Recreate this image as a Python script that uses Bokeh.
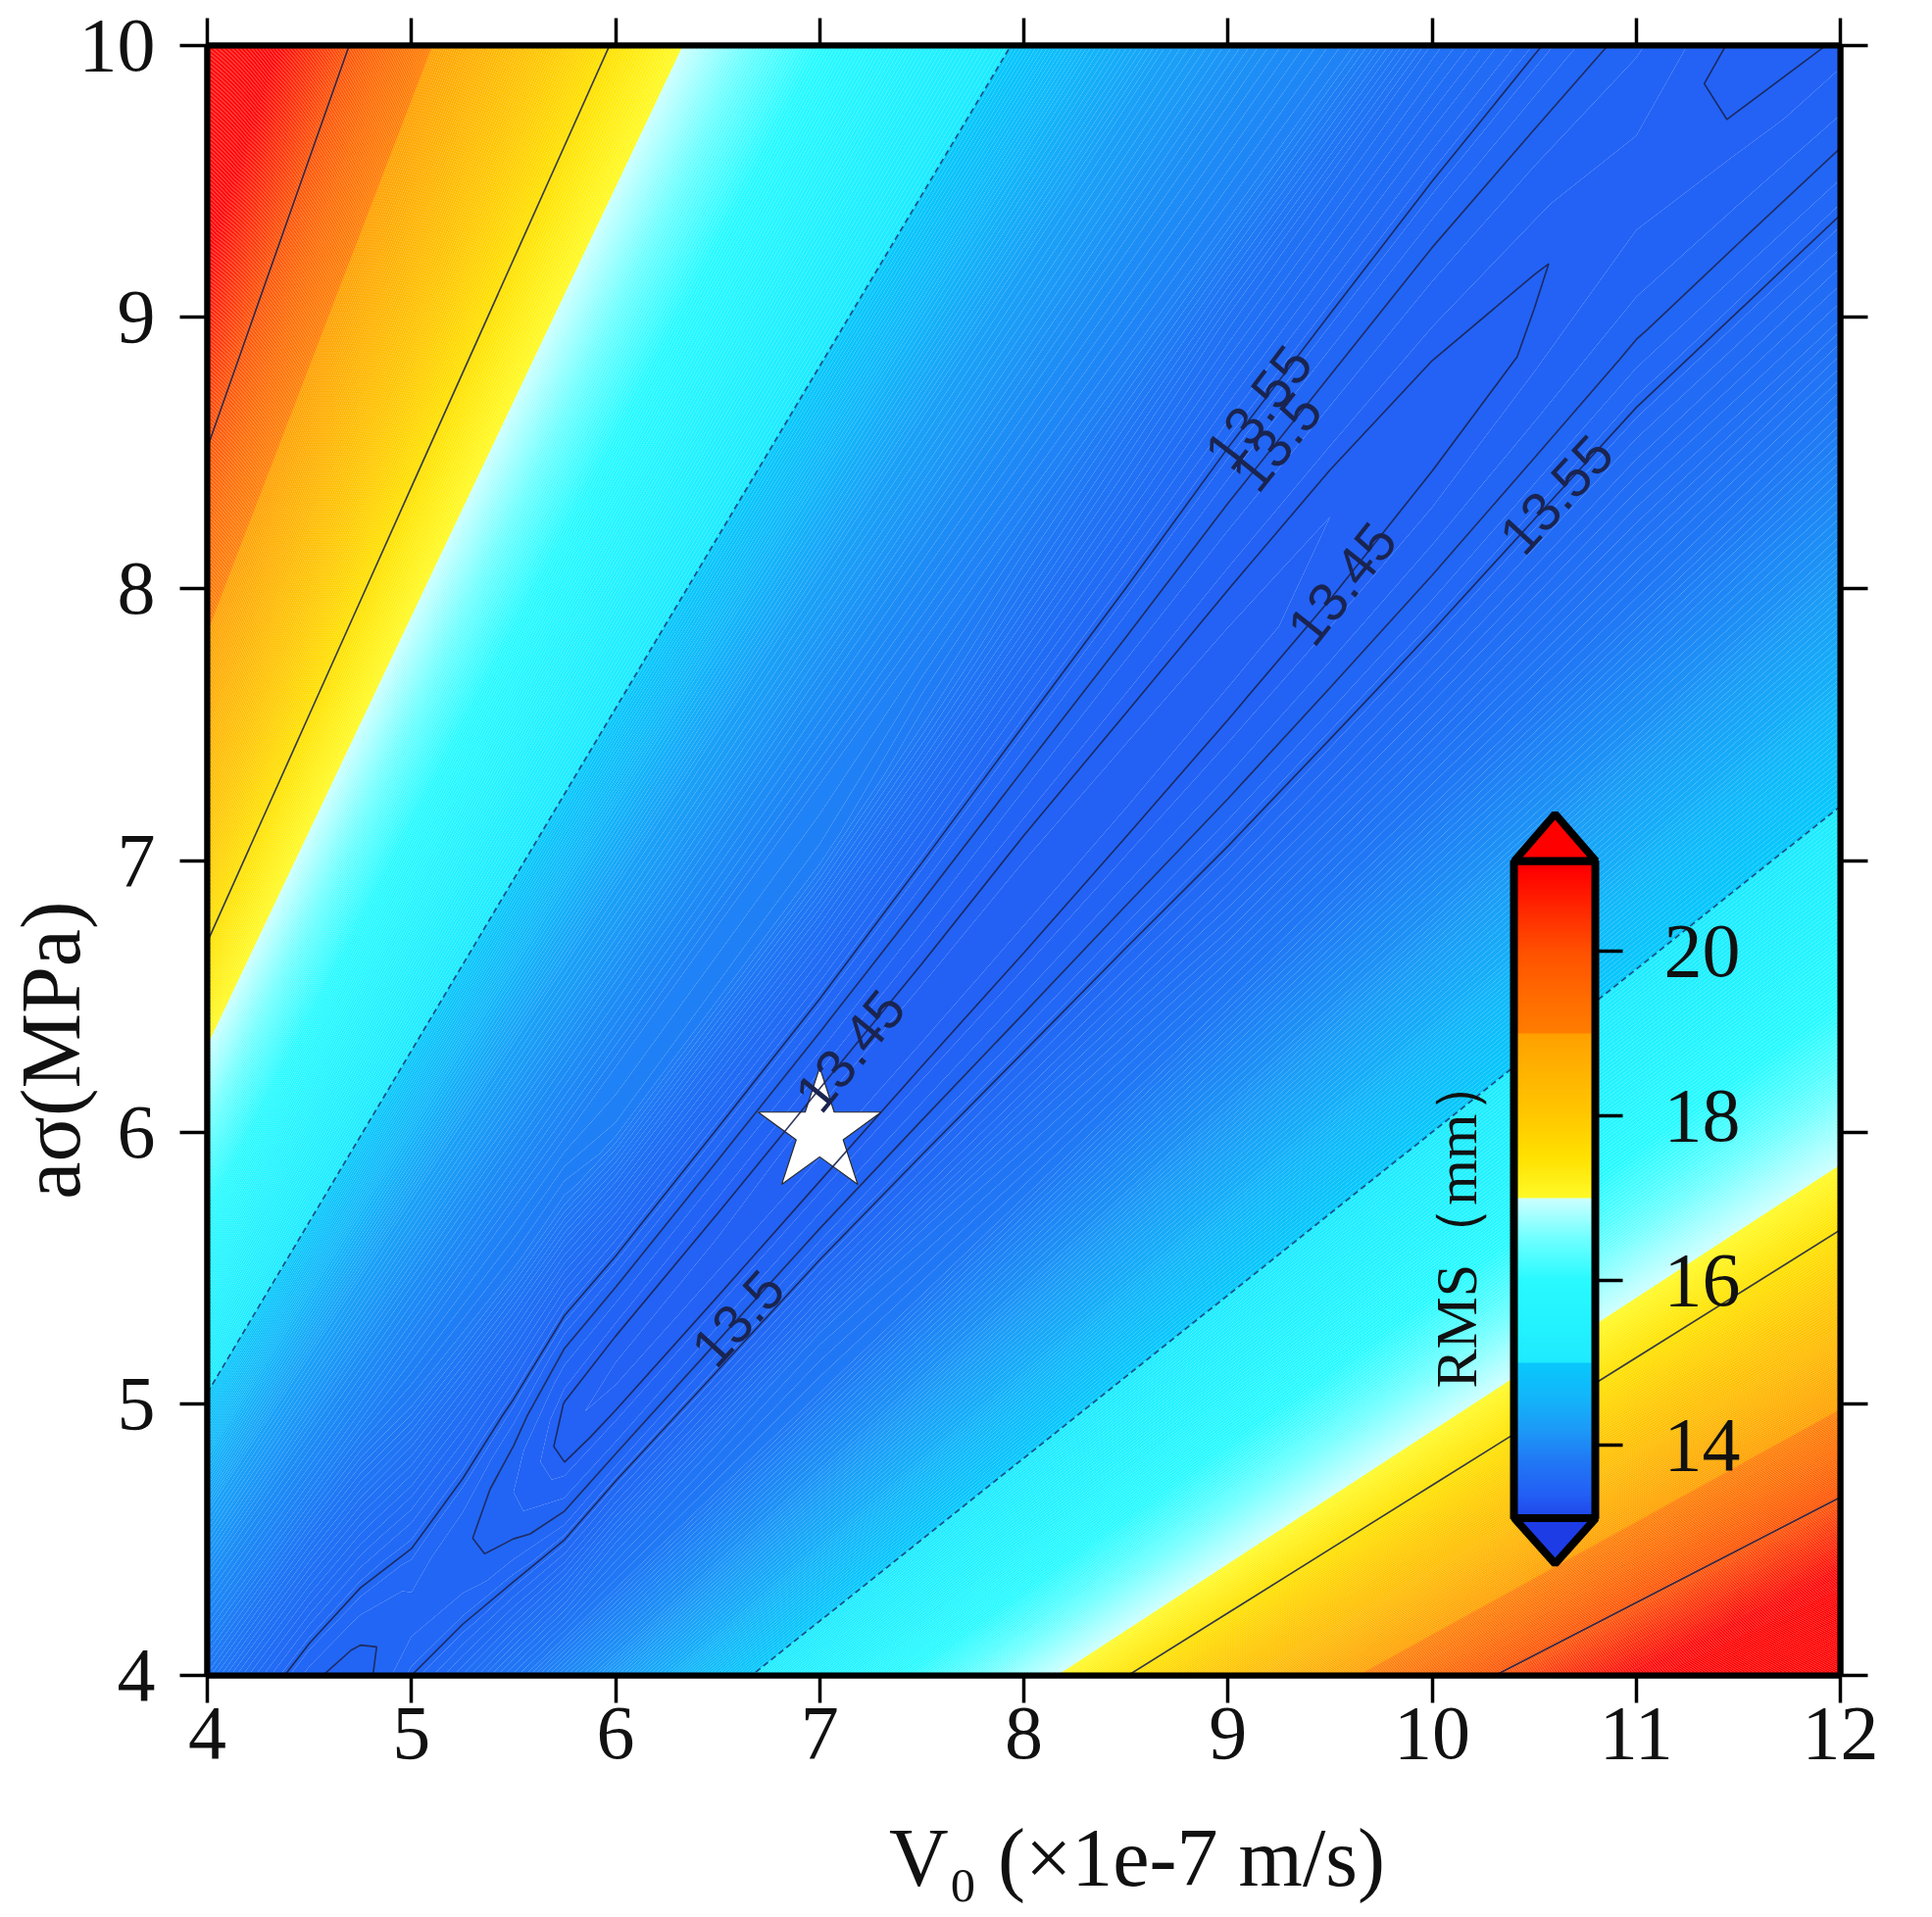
import math
import numpy as np
from bokeh.plotting import figure
from bokeh.plotting.contour import contour_data
from bokeh.models import (ColorBar, LinearColorMapper, FixedTicker, LinearAxis,
                          Label, PolyAnnotation, ColumnDataSource)
from bokeh.core.properties import value, field
from bokeh.embed import file_html
from bokeh.resources import INLINE

# ---------------- data ----------------
# RMS (mm) sampled along rays of constant a-sigma / V0 ratio (rows)
# at a set of V0 positions (columns).
v0_cols = [4.0, 4.5, 4.75, 5.0, 5.25, 5.5, 5.75, 6.0, 6.5, 7.0, 7.5, 8.0, 8.5, 9.0, 9.5, 10.0, 10.5, 11.0, 11.5, 12.0]

# far from the valley the RMS only depends on the ratio
ratio_low = [0.33, 0.36, 0.388, 0.415, 0.44, 0.47, 0.49, 0.52, 0.56, 0.60, 0.64, 0.68, 0.72]
rms_low = [22.3, 21.2, 20.0, 19.0, 18.25, 17.5, 17.0, 16.35, 15.63, 15.0, 14.49, 14.1, 13.82]

ratio_high = [1.04, 1.09, 1.15, 1.20, 1.26, 1.33, 1.40, 1.49, 1.58, 1.675, 1.78, 1.87, 1.96, 2.13, 2.30, 2.52]
rms_high = [13.92, 14.07, 14.30, 14.58, 15.0, 15.41, 15.84, 16.41, 17.0, 17.5, 18.08, 18.55, 19.0, 20.0, 21.0, 22.2]

# the valley of minimum misfit
ratio_valley = [0.75, 0.77, 0.79, 0.81, 0.83, 0.85, 0.87, 0.89, 0.91, 0.93, 0.95, 0.97, 1.00]
rms_valley = [
    [13.618, 13.614, 13.629, 13.672, 13.683, 13.688, 13.681, 13.713, 13.731, 13.749, 13.730, 13.710, 13.693, 13.675, 13.673, 13.672, 13.675, 13.677, 13.666, 13.657],
    [13.566, 13.560, 13.574, 13.610, 13.614, 13.609, 13.592, 13.611, 13.623, 13.636, 13.625, 13.613, 13.604, 13.593, 13.593, 13.594, 13.598, 13.602, 13.592, 13.583],
    [13.528, 13.521, 13.534, 13.565, 13.563, 13.550, 13.525, 13.534, 13.542, 13.550, 13.545, 13.539, 13.535, 13.530, 13.531, 13.533, 13.539, 13.544, 13.534, 13.525],
    [13.503, 13.495, 13.508, 13.535, 13.529, 13.510, 13.479, 13.480, 13.485, 13.489, 13.488, 13.486, 13.485, 13.484, 13.486, 13.489, 13.495, 13.501, 13.492, 13.483],
    [13.491, 13.482, 13.494, 13.519, 13.510, 13.487, 13.451, 13.449, 13.450, 13.451, 13.452, 13.452, 13.453, 13.454, 13.456, 13.460, 13.466, 13.473, 13.464, 13.455],
    [13.491, 13.481, 13.493, 13.515, 13.505, 13.480, 13.442, 13.437, 13.436, 13.435, 13.435, 13.436, 13.437, 13.439, 13.441, 13.445, 13.451, 13.458, 13.449, 13.440],
    [13.502, 13.491, 13.502, 13.524, 13.514, 13.488, 13.449, 13.444, 13.442, 13.439, 13.438, 13.436, 13.437, 13.438, 13.440, 13.443, 13.449, 13.456, 13.447, 13.438],
    [13.523, 13.511, 13.521, 13.545, 13.534, 13.510, 13.472, 13.469, 13.465, 13.461, 13.457, 13.453, 13.452, 13.451, 13.451, 13.453, 13.459, 13.465, 13.456, 13.447],
    [13.554, 13.540, 13.550, 13.575, 13.567, 13.545, 13.509, 13.511, 13.506, 13.501, 13.492, 13.484, 13.479, 13.475, 13.475, 13.475, 13.480, 13.485, 13.476, 13.467],
    [13.594, 13.579, 13.588, 13.616, 13.610, 13.592, 13.560, 13.567, 13.563, 13.558, 13.543, 13.529, 13.520, 13.511, 13.509, 13.507, 13.511, 13.515, 13.506, 13.497],
    [13.641, 13.626, 13.635, 13.666, 13.663, 13.651, 13.624, 13.639, 13.634, 13.629, 13.607, 13.586, 13.572, 13.558, 13.553, 13.550, 13.552, 13.555, 13.545, 13.536],
    [13.697, 13.680, 13.689, 13.724, 13.726, 13.720, 13.699, 13.723, 13.719, 13.715, 13.685, 13.656, 13.635, 13.615, 13.608, 13.602, 13.603, 13.604, 13.593, 13.584],
    [13.794, 13.776, 13.784, 13.827, 13.836, 13.842, 13.833, 13.873, 13.871, 13.869, 13.824, 13.781, 13.748, 13.717, 13.706, 13.696, 13.694, 13.692, 13.681, 13.672],
]

best_v0 = [7.0]
best_asigma = [6.0]

x_ticks = [4, 5, 6, 7, 8, 9, 10, 11, 12]
y_ticks = [4, 5, 6, 7, 8, 9, 10]
cbar_ticks = [14, 16, 18, 20]
line_levels = [13.45, 13.5, 13.55, 17.5, 20.0]
dash_levels = [15.0]
# (level, V0 where the label sits, branch)
label_specs = [(13.55, 9.15, "upper"), (13.5, 9.24, "upper"), (13.45, 9.56, "lower"),
               (13.55, 10.61, "lower"), (13.45, 7.15, "upper"), (13.5, 6.6, "lower")]
label_texts = ["13.55", "13.5", "13.45", "13.55", "13.45", "13.5"]

# ---------------- colour scale (style) ----------------
STOPS = [
    (13.0, (30, 60, 230)), (13.4, (35, 95, 245)), (13.8, (32, 120, 245)),
    (14.2, (28, 155, 247)), (14.6, (18, 183, 250)), (15.0, (8, 200, 252)),
    (15.0, (30, 235, 255)), (16.0, (40, 250, 255)), (16.5, (110, 255, 255)), (17.0, (205, 255, 255)),
    (17.0, (255, 250, 40)), (17.5, (255, 225, 0)), (18.0, (255, 200, 0)), (18.5, (255, 180, 0)), (19.0, (255, 160, 0)),
    (19.0, (255, 125, 0)), (19.5, (255, 105, 0)), (20.0, (255, 80, 0)), (20.5, (255, 40, 0)), (21.0, (255, 0, 0)),
]


def cmap(v):
    if v <= STOPS[0][0]:
        c = STOPS[0][1]
    elif v >= STOPS[-1][0]:
        c = STOPS[-1][1]
    else:
        c = STOPS[-1][1]
        for (a, ca), (b, cb) in zip(STOPS[:-1], STOPS[1:]):
            if a <= v < b:
                t = (v - a) / (b - a)
                c = tuple(int(round(ca[k] + t * (cb[k] - ca[k]))) for k in range(3))
                break
    return "#%02x%02x%02x" % c


# ---------------- grid for the library's contouring ----------------
cols = np.array(v0_cols, dtype=float)
ratios = np.array(ratio_low + ratio_valley + ratio_high, dtype=float)
Z = np.vstack([
    np.tile(np.array(rms_low, dtype=float)[:, None], (1, len(cols))),
    np.array(rms_valley, dtype=float),
    np.tile(np.array(rms_high, dtype=float)[:, None], (1, len(cols))),
])
X = np.tile(cols, (len(ratios), 1))
Y = ratios[:, None] * cols[None, :]

FW, FH = 1666, 1663
PX, PY = FW / 8.0, FH / 6.0

p = figure(frame_width=FW, frame_height=FH, x_range=(4, 12), y_range=(4, 10),
           output_backend="svg", toolbar_location=None, title=None,
           min_border_left=210, min_border_top=46, min_border_right=70, min_border_bottom=231)
p.background_fill_color = "white"
p.border_fill_color = "white"
p.outline_line_color = "black"
p.outline_line_width = 6
p.xgrid.grid_line_color = None
p.ygrid.grid_line_color = None

levels = [round(13.40 + 0.02 * i, 2) for i in range(451)]
fill_colors = [cmap((levels[i] + levels[i + 1]) / 2.0) for i in range(len(levels) - 1)]
cr = p.contour(X, Y, Z, levels=levels, fill_color=fill_colors, line_color=None)
if "fill_color" in cr.fill_renderer.data_source.data:
    cr.fill_renderer.glyph.line_color = field("fill_color")
    cr.fill_renderer.glyph.line_width = 1.2

# best-fit star
p.scatter(x=best_v0, y=best_asigma, marker="star", size=132, fill_color="white",
          line_color="#2a2a2a", line_width=1.2)

# contour lines
p.contour(X, Y, Z, levels=line_levels, line_color="#1c2350", line_width=1.6, line_alpha=0.9)
p.contour(X, Y, Z, levels=dash_levels, line_color="#1c3a70", line_width=1.6, line_alpha=0.9,
          line_dash="6 4")


# contour labels, positioned on the computed contour lines
def _flat(a):
    try:
        arr = np.asarray(a, dtype=float)
        if arr.ndim == 1:
            return arr
    except Exception:
        pass
    parts = []
    for seg in a:
        parts.append(np.asarray(seg, dtype=float).ravel())
        parts.append(np.array([np.nan]))
    return np.concatenate(parts) if parts else np.array([])


uniq = sorted(set(s[0] for s in label_specs))
ld = contour_data(X, Y, Z, levels=uniq, want_fill=False, want_line=True).line_data
lines_by_level = {}
for i, lv in enumerate(uniq):
    lines_by_level[lv] = (_flat(ld.xs[i]), _flat(ld.ys[i]))

lx, ly, la, lt = [], [], [], []
for (lv, x0, branch), txt in zip(label_specs, label_texts):
    xs, ys = lines_by_level[lv]
    best = None
    for i in range(len(xs) - 1):
        xa, xb, ya, yb = xs[i], xs[i + 1], ys[i], ys[i + 1]
        if np.isnan(xa) or np.isnan(xb) or np.isnan(ya) or np.isnan(yb) or xa == xb:
            continue
        if (xa - x0) * (xb - x0) <= 0:
            t = (x0 - xa) / (xb - xa)
            yy = ya + t * (yb - ya)
            if not (4.0 <= yy <= 10.0):
                continue
            if best is None or (branch == "upper" and yy > best[0]) or (branch == "lower" and yy < best[0]):
                best = (yy, xb - xa, yb - ya)
    if best is None:
        continue
    ang = math.atan2(best[2] * PY, best[1] * PX)
    if ang > math.pi / 2:
        ang -= math.pi
    if ang < -math.pi / 2:
        ang += math.pi
    lx.append(x0)
    ly.append(best[0])
    la.append(ang)
    lt.append(txt)

p.text(x="x", y="y", text="t", angle="a",
       source=ColumnDataSource(dict(x=lx, y=ly, t=lt, a=la)),
       text_font=value("Liberation Sans"), text_font_size="56px", text_color="#1a2450",
       text_align="center", text_baseline="middle")


# ---------------- axes ----------------
def style_axis(ax, ticks, labels=True):
    ax.ticker = FixedTicker(ticks=ticks)
    ax.axis_line_color = "black"
    ax.axis_line_width = 6
    ax.major_tick_line_color = "black"
    ax.major_tick_line_width = 3.5
    ax.major_tick_out = 28
    ax.major_tick_in = 0
    ax.minor_tick_line_color = None
    ax.major_label_text_font = "Liberation Serif"
    ax.major_label_text_color = "#111111"
    if labels:
        ax.major_label_text_font_size = "78px"
    else:
        ax.major_label_text_font_size = "1px"
        ax.major_label_text_alpha = 0


style_axis(p.xaxis[0], x_ticks)
style_axis(p.yaxis[0], y_ticks)
p.xaxis[0].major_label_standoff = 5
p.yaxis[0].major_label_standoff = 25

# the original's axis titles sit off-centre: no-break spaces shift them
p.xaxis[0].axis_label = "\u00a0" * 11 + "V\u2080 (\u00d71e-7 m/s)"
p.xaxis[0].axis_label_text_font = "Liberation Serif"
p.xaxis[0].axis_label_text_font_size = "84px"
p.xaxis[0].axis_label_text_font_style = "normal"
p.xaxis[0].axis_label_text_color = "#111111"
p.xaxis[0].axis_label_standoff = 52

p.yaxis[0].axis_label = "a\u03c3(MPa)" + "\u00a0" * 18
p.yaxis[0].axis_label_text_font = "Liberation Serif"
p.yaxis[0].axis_label_text_font_size = "86px"
p.yaxis[0].axis_label_text_font_style = "normal"
p.yaxis[0].axis_label_text_color = "#111111"
p.yaxis[0].axis_label_standoff = -22

top_ax = LinearAxis()
style_axis(top_ax, x_ticks, labels=False)
p.add_layout(top_ax, "above")
right_ax = LinearAxis()
style_axis(right_ax, y_ticks, labels=False)
p.add_layout(right_ax, "right")

# ---------------- colour bar ----------------
CB_LOW, CB_HIGH = 13.1, 21.1
NCB = 400
cb_palette = [cmap(CB_LOW + (i + 0.5) * (CB_HIGH - CB_LOW) / NCB) for i in range(NCB)]
mapper = LinearColorMapper(palette=cb_palette, low=CB_LOW, high=CB_HIGH)
cb = ColorBar(color_mapper=mapper, ticker=FixedTicker(ticks=cbar_ticks),
              orientation="vertical", location=(1333, 160), width=83, height=671,
              padding=0, margin=0, bar_line_color="black", bar_line_width=8,
              major_tick_line_color="black", major_tick_line_width=3.5,
              major_tick_out=28, major_tick_in=0, minor_tick_line_color=None,
              label_standoff=42, major_label_text_font="Liberation Serif",
              major_label_text_font_size="78px", major_label_text_color="#111111",
              background_fill_alpha=0, border_line_color=None)
p.add_layout(cb)

CBX0, CBX1 = 1333.5, 1416.5
p.add_layout(PolyAnnotation(xs=[CBX0, CBX1, (CBX0 + CBX1) / 2], ys=[831, 831, 879],
                            xs_units="screen", ys_units="screen", fill_color=cmap(22.0), fill_alpha=1.0,
                            line_color="black", line_width=8, line_alpha=1.0))
p.add_layout(PolyAnnotation(xs=[CBX0, CBX1, (CBX0 + CBX1) / 2], ys=[160.4, 160.4, 114],
                            xs_units="screen", ys_units="screen", fill_color=cmap(12.5), fill_alpha=1.0,
                            line_color="black", line_width=8, line_alpha=1.0))
p.add_layout(Label(x=1274, y=463, x_units="screen", y_units="screen", text="RMS\uff08mm\uff09",
                   angle=math.pi / 2, text_font="Liberation Serif", text_font_size="60px",
                   text_color="#111111", text_align="center", text_baseline="middle"))

open("out.html", "w").write(file_html(p, INLINE))
